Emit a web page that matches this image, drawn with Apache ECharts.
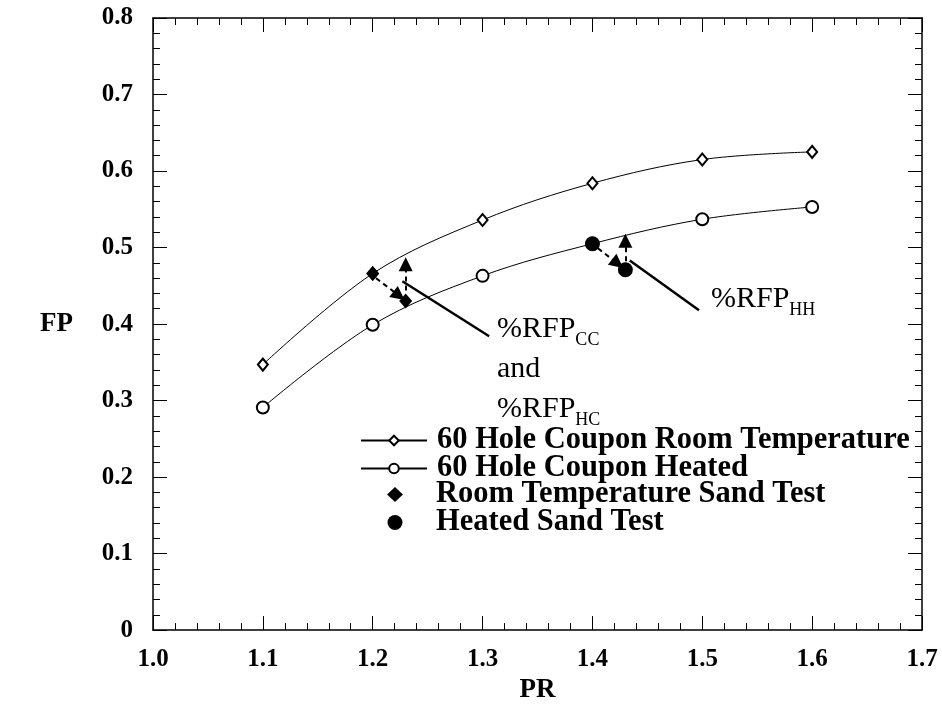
<!DOCTYPE html>
<html>
<head>
<meta charset="utf-8">
<script src="https://cdn.jsdelivr.net/npm/echarts@6/dist/echarts.min.js"></script>
<style>
  html, body { margin: 0; padding: 0; background: #fff; }
  #chart { width: 942px; height: 709px; }
</style>
</head>
<body>
<div id="chart"></div>
<script>
// Film cooling performance (FP) against pressure ratio (PR)
const pressureRatio = [1.1, 1.2, 1.3, 1.4, 1.5, 1.6];
const fpRoomTemp = [0.347, 0.466, 0.536, 0.584, 0.615, 0.625];
const fpHeated = [0.291, 0.399, 0.463, 0.505, 0.537, 0.553];

// Sand test results: clean value then value after sand deposition
const sandRoomPR = [1.2, 1.23];
const sandRoomFP = [0.466, 0.430];
const sandHeatedPR = [1.4, 1.43];
const sandHeatedFP = [0.505, 0.471];

// Dashed arrows (from -> to) in PR/FP units
const shiftArrows = [
  [[1.203, 0.460], [1.224, 0.437]],
  [[1.230, 0.444], [1.230, 0.478]],
  [[1.405, 0.499], [1.423, 0.479]],
  [[1.430, 0.482], [1.430, 0.509]]
];
// Leader lines from the arrows to their captions
const leaderLines = [
  [[1.227, 0.456], [1.306, 0.384]],
  [[1.434, 0.483], [1.497, 0.418]]
];

const lineNames = ['60 Hole Coupon Room Temperature', '60 Hole Coupon Heated'];
const sandNames = ['Room Temperature Sand Test', 'Heated Sand Test'];

const serif = '"Liberation Serif", "Times New Roman", serif';

function zip(xs, ys) { return xs.map((x, i) => [x, ys[i]]); }

const chart = echarts.init(document.getElementById('chart'), null, { renderer: 'canvas' });

const axisCommon = {
  type: 'value',
  axisLine: { show: true, onZero: false, lineStyle: { color: '#000', width: 1.5 } },
  axisTick: { show: true, inside: true, length: 14, lineStyle: { color: '#000', width: 1 } },
  minorTick: { show: true, splitNumber: 5, length: 7, lineStyle: { color: '#000', width: 1 } },
  splitLine: { show: false },
  minorSplitLine: { show: false }
};

const labelFont = { fontFamily: serif, fontWeight: 'bold', fontSize: 25, color: '#000' };
const nameFont = { fontFamily: serif, fontWeight: 'bold', fontSize: 27, color: '#000' };
const legendText = { fontFamily: serif, fontWeight: 'bold', fontSize: 30.5, color: '#000' };

const option = {
  backgroundColor: '#fff',
  animation: false,
  grid: { left: 153, right: 20, top: 18, bottom: 78, containLabel: false },
  xAxis: [
    Object.assign({}, axisCommon, {
      min: 1.0, max: 1.7, interval: 0.1, position: 'bottom',
      name: 'PR', nameLocation: 'middle', nameGap: 46,
      nameTextStyle: nameFont,
      axisLabel: Object.assign({}, labelFont, { margin: 17, formatter: v => v.toFixed(1) })
    }),
    Object.assign({}, axisCommon, {
      min: 1.0, max: 1.7, interval: 0.1, position: 'top',
      axisLabel: { show: false }
    })
  ],
  yAxis: [
    Object.assign({}, axisCommon, {
      min: 0, max: 0.8, interval: 0.1, position: 'left',
      name: 'FP', nameLocation: 'middle', nameGap: 80, nameRotate: 0,
      nameTextStyle: nameFont,
      axisLabel: Object.assign({}, labelFont, { margin: 20, formatter: v => v === 0 ? '0' : v.toFixed(1) })
    }),
    Object.assign({}, axisCommon, {
      min: 0, max: 0.8, interval: 0.1, position: 'right',
      axisLabel: { show: false }
    })
  ],
  legend: [
    {
      data: lineNames,
      orient: 'vertical',
      left: 355, top: 420,
      itemWidth: 66, itemHeight: 12, itemGap: -3,
      textStyle: Object.assign({}, legendText, { padding: [0, 0, 0, 5] })
    },
    {
      data: sandNames,
      orient: 'vertical',
      left: 382, top: 474,
      itemWidth: 16, itemHeight: 15, itemGap: -3,
      textStyle: Object.assign({}, legendText, { padding: [0, 0, 0, 28] })
    }
  ],
  series: [
    {
      name: lineNames[0], type: 'line', smooth: 0.35,
      data: zip(pressureRatio, fpRoomTemp),
      symbol: 'emptyDiamond', symbolSize: [10, 12],
      lineStyle: { color: '#000', width: 1 },
      itemStyle: { color: '#000', borderWidth: 1 },
      z: 2
    },
    {
      name: lineNames[1], type: 'line', smooth: 0.35,
      data: zip(pressureRatio, fpHeated),
      symbol: 'emptyCircle', symbolSize: 12,
      lineStyle: { color: '#000', width: 1 },
      itemStyle: { color: '#000', borderWidth: 1 },
      z: 2
    },
    {
      name: 'arrows', type: 'lines', coordinateSystem: 'cartesian2d',
      symbol: ['none', 'triangle'], symbolSize: 14,
      lineStyle: { color: '#000', width: 2, type: [5, 4], opacity: 1 },
      data: shiftArrows.map(c => ({ coords: c })),
      z: 3
    },
    {
      name: 'leaders', type: 'lines', coordinateSystem: 'cartesian2d',
      symbol: ['none', 'none'],
      lineStyle: { color: '#000', width: 2.5, opacity: 1 },
      data: leaderLines.map(c => ({ coords: c })),
      z: 3
    },
    {
      name: sandNames[0], type: 'scatter',
      data: zip(sandRoomPR, sandRoomFP),
      symbol: 'diamond', symbolSize: [13, 15],
      itemStyle: { color: '#000', opacity: 1 },
      z: 4
    },
    {
      name: sandNames[1], type: 'scatter',
      data: zip(sandHeatedPR, sandHeatedFP),
      symbol: 'circle', symbolSize: 15,
      itemStyle: { color: '#000', opacity: 1 },
      z: 4
    }
  ],
  graphic: [
    {
      type: 'text', left: 497, top: 314,
      style: {
        text: '{m|%RFP}{s|CC}\n{m|and}\n{m|%RFP}{s|HC}',
        font: '30px ' + serif,
        fill: '#000',
        rich: {
          m: { fontFamily: serif, fontSize: 30, lineHeight: 40, fill: '#000' },
          s: { fontFamily: serif, fontSize: 18, lineHeight: 30, verticalAlign: 'bottom', fill: '#000' }
        }
      }
    },
    {
      type: 'text', left: 711, top: 284,
      style: {
        text: '{m|%RFP}{s|HH}',
        font: '30px ' + serif,
        fill: '#000',
        rich: {
          m: { fontFamily: serif, fontSize: 30, lineHeight: 40, fill: '#000' },
          s: { fontFamily: serif, fontSize: 18, lineHeight: 30, verticalAlign: 'bottom', fill: '#000' }
        }
      }
    }
  ]
};

chart.setOption(option);
</script>
</body>
</html>
